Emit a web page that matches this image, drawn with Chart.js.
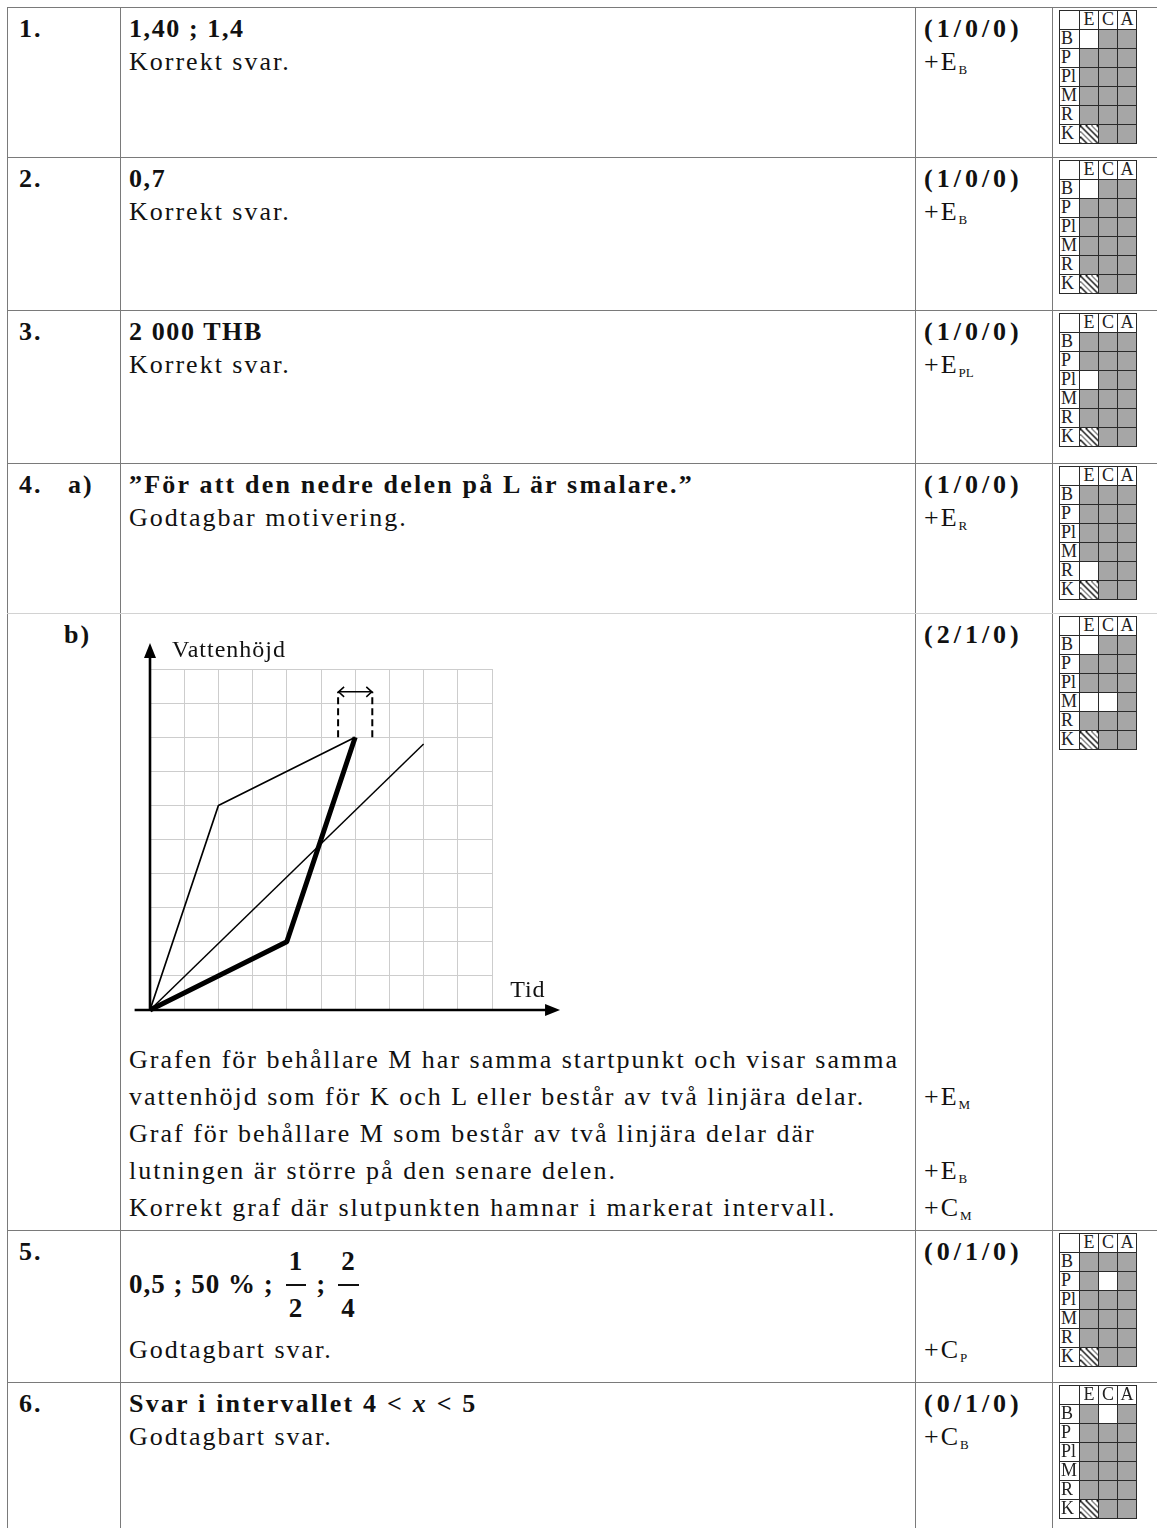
<!DOCTYPE html>
<html lang="sv">
<head>
<meta charset="utf-8">
<script src="https://cdn.jsdelivr.net/npm/chart.js@4"></script>
<style>
  html, body { margin: 0; padding: 0; background: #fff; }
  body {
    width: 1157px; height: 1528px; overflow: hidden; position: relative;
    font-family: 'Liberation Serif', 'Times New Roman', serif;
    font-size: 26px; color: #111; letter-spacing: 2px;
  }
  table.bed {
    position: absolute; left: 7px; top: 7px;
    border-collapse: collapse; table-layout: fixed; width: 1160px;
  }
  table.bed td {
    border: 1px solid #7a7a7a; vertical-align: top;
    padding: 4px 8px 0 8px; line-height: 33px;
  }
  table.bed td.nr { padding-left: 11px; font-weight: bold; }
  table.bed td.matris { padding: 2px 0 0 6px; }
  tr.a td { border-bottom-color: #d2d2d2; }
  tr.b td { border-top-color: #d2d2d2; }
  b { font-weight: bold; letter-spacing: 1.6px; }
  b.lang { letter-spacing: 2.2px; }
  .p { font-weight: bold; letter-spacing: 4px; }
  sub { font-size: 13px; letter-spacing: 0; vertical-align: -4px; line-height: 0; }
  .rader { line-height: 37px; }
  .fraclinje { margin-top: 0; height: 98px; display: flex; align-items: center; font-weight: bold; font-size: 27px; letter-spacing: 1px; }
  .fraclinje > span { line-height: 29px; }
  .frac { display: inline-flex; flex-direction: column; align-items: center; margin: 0 10px 0 12px; }
  .frac span { line-height: 34px; padding: 0 3px; }
  .frac span:first-child { border-bottom: 2px solid #111; padding-bottom: 6px; }
  .frac span:last-child { padding-top: 5px; }
  #graf { position: absolute; left: 120px; top: 620px; width: 480px; height: 410px; }
  table.g {
    border-collapse: collapse; table-layout: fixed; width: 78px; height: 134px;
    font-size: 18px; letter-spacing: 0; color: #222;
  }
  table.g td { border: 1px solid #2a2a2a; padding: 0; line-height: 17px; height: 18px; }
  table.g td.lab { text-align: left; padding-left: 1px; background: #fff; }
  table.g td.hd { text-align: center; background: #fff; }
  table.g td.gra { background: #a6a6a6; }
  table.g td.vit { background: #fff; }
  table.g td.streck { background: repeating-linear-gradient(45deg, #111 0 1px, #fff 1px 4px); }
  table.g.suddig { filter: blur(0.7px); }
</style>
</head>
<body>
<table class="bed">
  <colgroup><col style="width:113px"><col style="width:795px"><col style="width:137px"><col style="width:115px"></colgroup>
  <tr style="height:150px">
    <td class="nr">1.</td>
    <td><b>1,40 ; 1,4</b><br>Korrekt svar.</td>
    <td><span class="p">(1/0/0)</span><br>+E<sub>B</sub></td>
    <td class="matris"><div class="gridplats" data-i="0"></div></td>
  </tr>
  <tr style="height:153px">
    <td class="nr">2.</td>
    <td><b>0,7</b><br>Korrekt svar.</td>
    <td><span class="p">(1/0/0)</span><br>+E<sub>B</sub></td>
    <td class="matris"><div class="gridplats" data-i="1"></div></td>
  </tr>
  <tr style="height:153px">
    <td class="nr">3.</td>
    <td><b>2 000 THB</b><br>Korrekt svar.</td>
    <td><span class="p">(1/0/0)</span><br>+E<sub>PL</sub></td>
    <td class="matris"><div class="gridplats" data-i="2"></div></td>
  </tr>
  <tr class="a" style="height:150px">
    <td class="nr">4.&nbsp;&nbsp;&nbsp;a)</td>
    <td><b class="lang">”För att den nedre delen på L är smalare.”</b><br>Godtagbar motivering.</td>
    <td><span class="p">(1/0/0)</span><br>+E<sub>R</sub></td>
    <td class="matris"><div class="gridplats" data-i="3"></div></td>
  </tr>
  <tr class="b" style="height:617px">
    <td class="nr"><span style="padding-left:45px">b)</span></td>
    <td>
      <div style="height:423px"></div>
      <div class="rader">
        Grafen för behållare M har samma startpunkt och visar samma<br>
        vattenhöjd som för K och L eller består av två linjära delar.<br>
        Graf för behållare M som består av två linjära delar där<br>
        lutningen är större på den senare delen.<br>
        Korrekt graf där slutpunkten hamnar i markerat intervall.
      </div>
    </td>
    <td>
      <div style="height:423px"><span class="p">(2/1/0)</span></div>
      <div class="rader">&nbsp;<br>+E<sub>M</sub><br>&nbsp;<br>+E<sub>B</sub><br>+C<sub>M</sub></div>
    </td>
    <td class="matris"><div class="gridplats" data-i="4"></div></td>
  </tr>
  <tr style="height:152px">
    <td class="nr">5.</td>
    <td>
      <div class="fraclinje">
        <span>0,5 ; 50 % ;</span>
        <span class="frac"><span>1</span><span>2</span></span>
        <span>;</span>
        <span class="frac"><span>2</span><span>4</span></span>
      </div>
      <div>Godtagbart svar.</div>
    </td>
    <td><span class="p">(0/1/0)</span><div style="height:65px"></div>+C<sub>P</sub></td>
    <td class="matris"><div class="gridplats" data-i="5"></div></td>
  </tr>
  <tr style="height:160px">
    <td class="nr">6.</td>
    <td><b class="lang">Svar i intervallet 4 &lt; <i>x</i> &lt; 5</b><br>Godtagbart svar.</td>
    <td><span class="p">(0/1/0)</span><br>+C<sub>B</sub></td>
    <td class="matris"><div class="gridplats" data-i="6"></div></td>
  </tr>
</table>

<div id="graf"><canvas id="vattenChart" width="480" height="410"></canvas></div>

<script>
// Tid och vattenhöjd för behållarna (i rutor)
const tidK = [0, 8];
const hojdK = [0, 7.8];
const tidL = [0, 2, 6];
const hojdL = [0, 6, 8];
const tidM = [0, 4, 6];
const hojdM = [0, 2, 8];

// markerat intervall för slutpunkten
const intervallTid = [5.5, 6.5];
const intervallHojd = [8, 9.33];

// rutnätet och axlarnas längd
const rutor = 10;
const axelStartTid = -0.45;
const axelSlutTid = 11.99;
const axelSlutHojd = 10.76;

// bedömningsmatriser, vita rutor per uppgift ("rad:kolumn")
const matrisRader = ['B', 'P', 'Pl', 'M', 'R', 'K'];
const matrisKolumner = ['E', 'C', 'A'];
const vitaRutor = [
    ['B:E'],
    ['B:E'],
    ['Pl:E'],
    ['R:E'],
    ['B:E', 'M:E', 'M:C'],
    ['P:C'],
    ['B:C'],
];

function punkter(tider, hojder) {
    return tider.map((t, i) => ({ x: t, y: hojder[i] }));
}

// Bygg matriserna
document.querySelectorAll('.gridplats').forEach(el => {
    const vita = vitaRutor[+el.dataset.i];
    let html = '<table class="g' + (el.dataset.i === '6' ? ' suddig' : '') + '">';
    html += '<colgroup><col style="width:20px"><col><col><col></colgroup>';
    html += '<tr><td class="hd"></td>' + matrisKolumner.map(k => '<td class="hd">' + k + '</td>').join('') + '</tr>';
    matrisRader.forEach(r => {
        html += '<tr><td class="lab">' + r + '</td>';
        matrisKolumner.forEach(k => {
            let cls = 'gra';
            if (r === 'K' && k === 'E') cls = 'streck';
            else if (vita.includes(r + ':' + k)) cls = 'vit';
            html += '<td class="' + cls + '"></td>';
        });
        html += '</tr>';
    });
    html += '</table>';
    el.innerHTML = html;
});

// Axlar, pilar och texter
const axelPlugin = {
    id: 'axlar',
    beforeDatasetsDraw(chart) {
        const { ctx, scales: { x, y } } = chart;
        const x0 = x.getPixelForValue(0);
        const y0 = y.getPixelForValue(0);
        const xEnd = x.getPixelForValue(axelSlutTid);
        const yEnd = y.getPixelForValue(axelSlutHojd);
        ctx.save();
        ctx.strokeStyle = '#000';
        ctx.fillStyle = '#000';
        ctx.lineWidth = 2.6;
        ctx.beginPath();
        ctx.moveTo(x.getPixelForValue(axelStartTid), y0);
        ctx.lineTo(xEnd - 10, y0);
        ctx.moveTo(x0, y0 + 1);
        ctx.lineTo(x0, yEnd + 10);
        ctx.stroke();
        ctx.beginPath();
        ctx.moveTo(xEnd, y0);
        ctx.lineTo(xEnd - 15, y0 - 6);
        ctx.lineTo(xEnd - 15, y0 + 6);
        ctx.closePath();
        ctx.moveTo(x0, yEnd);
        ctx.lineTo(x0 - 6, yEnd + 15);
        ctx.lineTo(x0 + 6, yEnd + 15);
        ctx.closePath();
        ctx.fill();

        ctx.font = '24px "Liberation Serif"';
        ctx.letterSpacing = '1px';
        ctx.fillStyle = '#111';
        ctx.fillText('Vattenhöjd', x0 + 22, y.getPixelForValue(rutor) - 12);
        ctx.fillText('Tid', x.getPixelForValue(10.53), y0 - 13);
        ctx.restore();
    },
    afterDatasetsDraw(chart) {
        // pilspetsar på intervallpilen
        const { ctx, scales: { x, y } } = chart;
        const yy = y.getPixelForValue(intervallHojd[1]);
        const xa = x.getPixelForValue(intervallTid[0]);
        const xb = x.getPixelForValue(intervallTid[1]);
        ctx.save();
        ctx.strokeStyle = '#000';
        ctx.lineWidth = 1.5;
        ctx.beginPath();
        ctx.moveTo(xa + 6, yy - 5); ctx.lineTo(xa + 0.5, yy); ctx.lineTo(xa + 6, yy + 5);
        ctx.moveTo(xb - 6, yy - 5); ctx.lineTo(xb - 0.5, yy); ctx.lineTo(xb - 6, yy + 5);
        ctx.stroke();
        ctx.restore();
    }
};

const linje = (data, bredd, extra) => Object.assign({
    data: data,
    borderColor: '#000',
    borderWidth: bredd,
    pointRadius: 0,
    tension: 0,
    fill: false,
    clip: false,
    borderJoinStyle: 'round',
}, extra || {});

new Chart(document.getElementById('vattenChart'), {
    type: 'line',
    data: {
        datasets: [
            linje(punkter(tidK, hojdK), 1.5),
            linje(punkter(tidL, hojdL), 1.7),
            linje(punkter(tidM, hojdM), 5),
            linje(punkter([intervallTid[0], intervallTid[0]], intervallHojd), 2, { borderDash: [7, 4] }),
            linje(punkter([intervallTid[1], intervallTid[1]], intervallHojd), 2, { borderDash: [7, 4] }),
            linje(punkter(intervallTid, [intervallHojd[1], intervallHojd[1]]), 1.5),
        ],
    },
    options: {
        responsive: false,
        animation: false,
        layout: { padding: { left: 30, right: 108, top: 49, bottom: 20 } },
        plugins: { legend: { display: false }, tooltip: { enabled: false } },
        scales: {
            x: {
                type: 'linear', min: 0, max: rutor,
                ticks: { display: false, stepSize: 1 },
                grid: { color: '#cdcdcd', lineWidth: 1, drawTicks: false },
                border: { display: false },
                afterFit: s => { s.height = 0; },
            },
            y: {
                type: 'linear', min: 0, max: rutor,
                ticks: { display: false, stepSize: 1 },
                grid: { color: '#cdcdcd', lineWidth: 1, drawTicks: false },
                border: { display: false },
                afterFit: s => { s.width = 0; },
            },
        },
    },
    plugins: [axelPlugin],
});
</script>
</body>
</html>
